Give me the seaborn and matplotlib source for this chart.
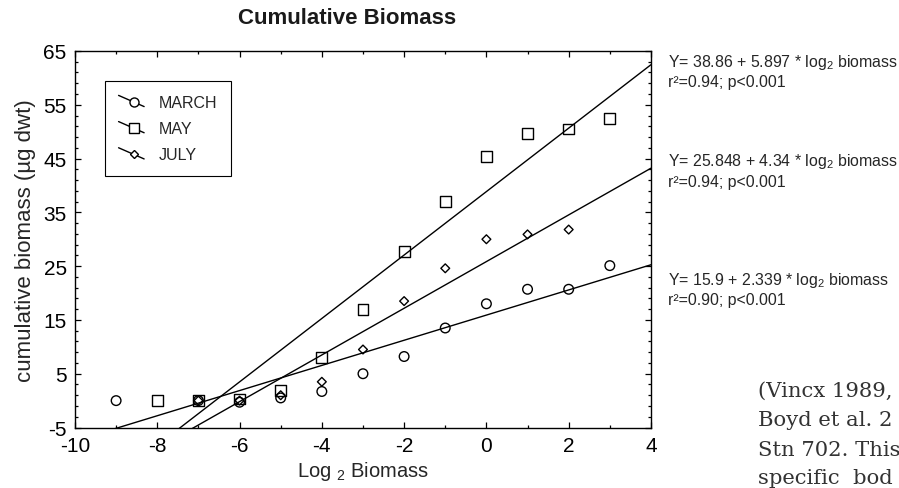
import numpy as np
import pandas as pd
import matplotlib
matplotlib.use("Agg")
import matplotlib.pyplot as plt
import seaborn as sns
from matplotlib.lines import Line2D
from matplotlib.legend_handler import HandlerBase
from matplotlib.ticker import MultipleLocator, FixedLocator

# ---------------- data ----------------
march_x = [-9, -7, -6, -5, -4, -3, -2, -1, 0, 1, 2, 3]
march_y = [0.0, 0.0, -0.3, 0.5, 1.7, 5.0, 8.2, 13.5, 18.0, 20.7, 20.7, 25.1]
may_x = [-8, -7, -6, -5, -4, -3, -2, -1, 0, 1, 2, 3]
may_y = [0.0, 0.0, 0.3, 1.8, 8.0, 17.0, 27.7, 37.0, 45.4, 49.6, 50.5, 52.4]
july_x = [-7, -6, -5, -4, -3, -2, -1, 0, 1, 2]
july_y = [0.0, 0.0, 1.0, 3.5, 9.5, 18.5, 24.6, 30.0, 30.9, 31.8]

series_names = ["MARCH", "MAY", "JULY"]
intercepts = [15.9, 38.86, 25.848]
slopes = [2.339, 5.897, 4.34]
equations = [
    "Y= 15.9 + 2.339 * log$_2$ biomass",
    "Y= 38.86 + 5.897 * log$_2$ biomass",
    "Y= 25.848 + 4.34 * log$_2$ biomass",
]
stats = ["r\u00b2=0.90; p<0.001", "r\u00b2=0.94; p<0.001", "r\u00b2=0.94; p<0.001"]

x_ticks = [-10, -8, -6, -4, -2, 0, 2, 4]
y_ticks = [-5, 5, 15, 25, 35, 45, 55, 65]

side_text = ["(Vincx 1989,", "Boyd et al. 2", "Stn 702. This", "specific  bod"]

# ---------------- style ----------------
sns.set_theme(style="ticks")
plt.rcParams["font.family"] = ["Liberation Sans", "DejaVu Sans"]
plt.rcParams["axes.unicode_minus"] = False
plt.rcParams["mathtext.fontset"] = "custom"
plt.rcParams["mathtext.rm"] = "Liberation Sans"
plt.rcParams["mathtext.it"] = "Liberation Sans:italic"
plt.rcParams["mathtext.bf"] = "Liberation Sans:bold"

fig = plt.figure(figsize=(8.99, 4.89), dpi=100)
ax = fig.add_axes([0.0834, 0.1237, 0.6407, 0.770])

frames = {
    "MARCH": pd.DataFrame({"x": march_x, "y": march_y}),
    "MAY": pd.DataFrame({"x": may_x, "y": may_y}),
    "JULY": pd.DataFrame({"x": july_x, "y": july_y}),
}
markers = {"MARCH": "o", "MAY": "s", "JULY": "D"}
msizes = {"MARCH": 48, "MAY": 62, "JULY": 20}

for name in series_names:
    sns.scatterplot(data=frames[name], x="x", y="y", ax=ax, marker=markers[name],
                    s=msizes[name], color="black", facecolor="none",
                    edgecolor="black", linewidth=1.0, zorder=3, legend=False)

# regression lines
for name, a, b in zip(series_names, intercepts, slopes):
    xs = np.array([-10.0, 4.0])
    line_df = pd.DataFrame({"x": xs, "y": a + b * xs})
    sns.lineplot(data=line_df, x="x", y="y", ax=ax, color="black", linewidth=1.0,
                 legend=False, zorder=2)

ax.set_xlim(-10, 4)
ax.set_ylim(-5, 65)
ax.set_xticks(x_ticks)
ax.set_yticks(y_ticks)
ax.xaxis.set_minor_locator(MultipleLocator(1))
ax.yaxis.set_minor_locator(FixedLocator(np.arange(-5, 66, 2)))
ax.tick_params(which="both", direction="in", top=True, right=True, colors="black",
               labelsize=15, width=0.9)
ax.tick_params(which="major", length=4, pad=6)
ax.tick_params(which="minor", length=2.5)
for sp in ax.spines.values():
    sp.set_visible(True)
    sp.set_color("black")
    sp.set_linewidth(1.0)

ax.set_xlabel("Log $_2$ Biomass", fontsize=14.5, labelpad=3)
ax.set_ylabel("cumulative biomass (\u00b5g dwt)", fontsize=16, labelpad=5)


# legend with slanted handles
class SlantHandler(HandlerBase):
    def create_artists(self, legend, orig_handle, xdescent, ydescent, width,
                       height, fontsize, trans):
        x0, x1 = -xdescent, -xdescent + width
        y0, y1 = -ydescent + height * 1.0, -ydescent + height * 0.0
        ln = Line2D([x0, x1], [y0, y1], color="black", lw=1.0, transform=trans)
        t = 0.6
        mk = Line2D([x0 + t * (x1 - x0)], [y0 + t * (y1 - y0)],
                    marker=orig_handle.get_marker(),
                    markersize=orig_handle.get_markersize(),
                    markerfacecolor="white", markeredgecolor="black",
                    markeredgewidth=1.0, linestyle="none", transform=trans)
        return [ln, mk]


handles = [
    Line2D([], [], marker="o", markersize=6.5, color="black"),
    Line2D([], [], marker="s", markersize=6.5, color="black"),
    Line2D([], [], marker="D", markersize=4.2, color="black"),
]
leg = ax.legend(handles, series_names, handler_map={Line2D: SlantHandler()},
                loc="upper left", bbox_to_anchor=(105 / 899, 1 - 82 / 489),
                bbox_transform=fig.transFigure, fontsize=11.5, frameon=True,
                fancybox=False, edgecolor="black", framealpha=1,
                handlelength=1.6, handletextpad=0.9, labelspacing=0.7,
                borderpad=0.85, borderaxespad=0)
leg.get_frame().set_linewidth(0.8)

# title
fig.text(238 / 899, 1 - 18 / 489, "Cumulative Biomass", fontsize=16,
         fontweight="bold", ha="left", va="center", color="#1a1a1a")

# equations on the right
eq_y = [280, 62, 162]
for eq, st, yy in zip(equations, stats, eq_y):
    fig.text(668 / 899, 1 - yy / 489, eq, fontsize=11.4, ha="left", va="center")
    fig.text(668 / 899, 1 - (yy + 21) / 489, st, fontsize=11.4, ha="left", va="center")

# page text at bottom right
side_y = [391, 421, 451, 479]
for s, yy in zip(side_text, side_y):
    fig.text(758 / 899, 1 - yy / 489, s, fontsize=15.2, family="DejaVu Serif",
             color="#333333", ha="left", va="center")

fig.savefig("out.png", dpi=100)
